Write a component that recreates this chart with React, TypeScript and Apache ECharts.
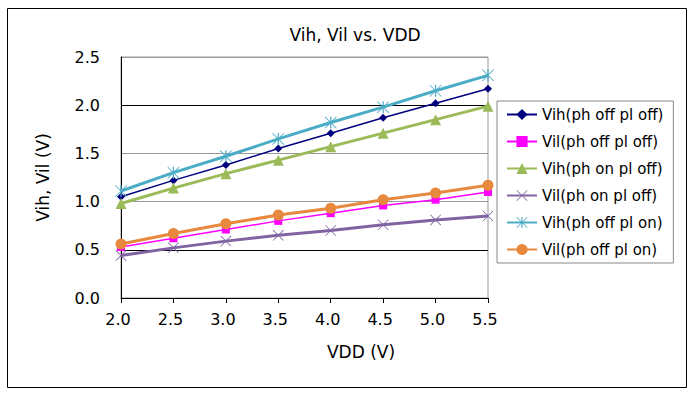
import React, { useEffect, useRef } from "react";
import * as echarts from "echarts";

const vdd = [2.0, 2.5, 3.0, 3.5, 4.0, 4.5, 5.0, 5.5];
const vihOffOff = [1.05, 1.22, 1.38, 1.55, 1.71, 1.87, 2.02, 2.17];
const vilOffOff = [0.53, 0.62, 0.71, 0.8, 0.88, 0.96, 1.02, 1.1];
const vihOnOff = [0.98, 1.14, 1.29, 1.43, 1.57, 1.71, 1.85, 1.99];
const vilOnOff = [0.44, 0.52, 0.59, 0.65, 0.7, 0.76, 0.81, 0.85];
const vihOffOn = [1.11, 1.3, 1.47, 1.65, 1.82, 1.98, 2.15, 2.31];
const vilOffOn = [0.56, 0.67, 0.77, 0.86, 0.93, 1.02, 1.09, 1.17];

const seriesNames = [
  "Vih(ph off pl off)",
  "Vil(ph off pl off)",
  "Vih(ph on pl off)",
  "Vil(ph on pl off)",
  "Vih(ph off pl on)",
  "Vil(ph off pl on)",
];

const FONT = "DejaVu Sans";
const X_SYMBOL = "path://M1,0 L10,9 L19,0 L20,1 L11,10 L20,19 L19,20 L10,11 L1,20 L0,19 L9,10 L0,1 Z";
const STAR_SYMBOL =
  "path://M1,0 L10,9 L19,0 L20,1 L11,10 L20,19 L19,20 L10,11 L1,20 L0,19 L9,10 L0,1 Z M9,0 L11,0 L11,20 L9,20 Z";

export default function App() {
  const ref = useRef<HTMLDivElement>(null);
  useEffect(() => {
    if (!ref.current) return;
    const chart = echarts.init(ref.current, null, { renderer: "svg" });
    const mk = (vals: number[]) => vdd.map((x, i) => [x, vals[i]]);
    const styles = [
      { data: vihOffOff, color: "#000080", width: 1.5, symbol: "diamond", size: 8 },
      { data: vilOffOff, color: "#FF00FF", width: 1.5, symbol: "rect", size: 8 },
      { data: vihOnOff, color: "#9BBB59", width: 3, symbol: "triangle", size: 11 },
      { data: vilOnOff, color: "#8064A2", width: 3, symbol: X_SYMBOL, size: 11 },
      { data: vihOffOn, color: "#4BACC6", width: 3, symbol: STAR_SYMBOL, size: 12 },
      { data: vilOffOn, color: "#E8883C", width: 3, symbol: "circle", size: 11 },
    ];
    chart.setOption({
      animation: false,
      backgroundColor: "#fff",
      title: {
        text: "Vih, Vil vs. VDD",
        left: 350,
        textAlign: "center",
        top: 21,
        textStyle: { fontFamily: FONT, fontSize: 17, fontWeight: "normal", color: "#000" },
      },
      graphic: [
        {
          type: "rect",
          shape: { x: 7.5, y: 8.5, width: 679, height: 379 },
          style: { fill: "none", stroke: "#000", lineWidth: 1 },
          silent: true,
        },
      ],
      grid: {
        left: 121,
        right: 202,
        top: 57,
        bottom: 100,
        show: true,
        borderColor: "#999",
        borderWidth: 1,
        backgroundColor: "transparent",
      },
      legend: {
        orient: "vertical",
        left: 497,
        top: 101,
        itemWidth: 30,
        itemHeight: 14,
        itemGap: 12,
        padding: [6, 10, 6, 9],
        borderColor: "#888",
        borderWidth: 1,
        backgroundColor: "#fff",
        textStyle: { fontFamily: FONT, fontSize: 15, color: "#000" },
        data: seriesNames,
      },
      xAxis: {
        type: "value",
        min: 2,
        max: 5.5,
        interval: 0.5,
        name: "VDD (V)",
        nameLocation: "middle",
        nameGap: 45,
        nameTextStyle: { fontFamily: FONT, fontSize: 17, color: "#000", padding: [0, 0, 0, 113] },
        axisLine: { show: true, onZero: false, lineStyle: { color: "#000", width: 1 } },
        axisTick: { show: true, length: 5, inside: false, lineStyle: { color: "#000" } },
        axisLabel: {
          fontFamily: FONT,
          fontSize: 16,
          color: "#000",
          margin: 13,
          padding: [0, 6, 0, 0],
          formatter: (v: number) => v.toFixed(1),
        },
        splitLine: { show: false },
      },
      yAxis: {
        type: "value",
        min: 0,
        max: 2.5,
        interval: 0.5,
        name: "Vih, Vil (V)",
        nameLocation: "middle",
        nameGap: 70,
        nameTextStyle: { fontFamily: FONT, fontSize: 17, color: "#000" },
        axisLine: { show: true, lineStyle: { color: "#000", width: 1 } },
        axisTick: { show: false },
        axisLabel: {
          fontFamily: FONT,
          fontSize: 16,
          color: "#000",
          margin: 21,
          formatter: (v: number) => v.toFixed(1),
        },
        splitLine: {
          show: true,
          lineStyle: { color: ["#000", "#000", "#999", "#999", "#000", "#999"], width: 1 },
        },
      },
      series: styles.map((s, i) => ({
        name: seriesNames[i],
        type: "line",
        data: mk(s.data),
        symbol: s.symbol,
        symbolSize: s.size,
        showSymbol: true,
        lineStyle: { color: s.color, width: s.width },
        itemStyle: { color: s.color, borderWidth: 0 },
        emphasis: { disabled: true },
      })),
    });
    return () => chart.dispose();
  }, []);
  return (
    <div
      ref={ref}
      style={{ position: "fixed", left: 0, top: 0, width: 690, height: 398 }}
    />
  );
}
